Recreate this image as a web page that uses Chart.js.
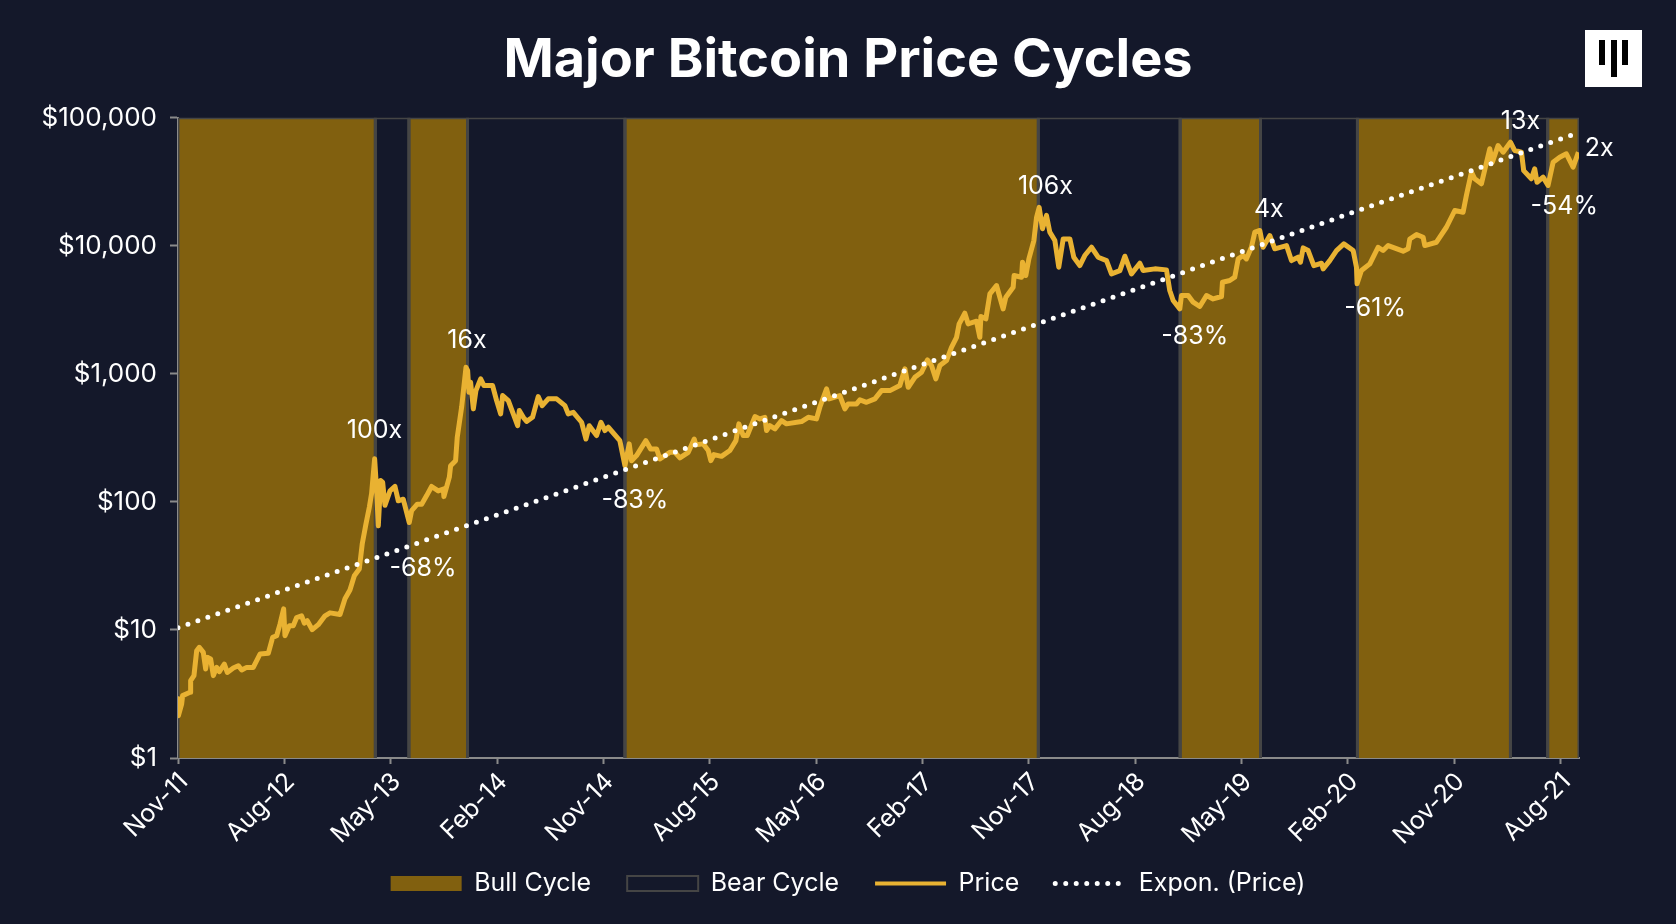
<!DOCTYPE html>
<html lang="en">
<head>
  <meta charset="UTF-8">
  <title>Major Bitcoin Price Cycles</title>
  <style>
    html,body{margin:0;padding:0;background:#14182a;width:1676px;height:924px;overflow:hidden;}
    #wrap{position:relative;width:1676px;height:924px;}
    .logo{position:absolute;left:1585px;top:30px;width:57px;height:57px;background:#fff;}
    .logo i{position:absolute;top:10px;width:6px;background:#000;}
  </style>
</head>
<body>
  <div id="wrap">
    <canvas id="mychart" width="1676" height="924"></canvas>
    <div class="logo">
      <i style="left:14px;height:25px"></i>
      <i style="left:26px;height:37px"></i>
      <i style="left:37px;height:25px"></i>
    </div>
  </div>
  <script src="https://cdn.jsdelivr.net/npm/chart.js"></script>
  <script>
    // x values are months since Nov-11
    const xTickMonths = [0,9,18,27,36,45,54,63,72,81,90,99,108,117]
    const xTickLabels = ['Nov-11','Aug-12','May-13','Feb-14','Nov-14','Aug-15','May-16','Feb-17','Nov-17','Aug-18','May-19','Feb-20','Nov-20','Aug-21']
    const yTickValues = [1,10,100,1000,10000,100000]

    const bullStarts = [0,19.54,37.82,84.8,99.8,115.9]
    const bullEnds = [16.7,24.5,72.8,91.6,112.75,118.55]
    const bearStarts = [16.7,24.5,72.8,91.6,112.75]
    const bearEnds = [19.54,37.82,84.8,99.8,115.9]

    const trendMonths = [0,118.4]
    const trendValues = [10.4,75900]

    const priceMonths = [
      0,0.03,0.31,0.39,1.02,1.07,1.35,1.58,1.8,2.14,2.34,2.48,2.76,2.99,3.27,3.5,3.92,4.17,4.68,5.1,5.39,5.81,6.37,6.94,7.64,8.01,8.35,8.63,8.94,9.05,9.42,9.76,10.04,10.46,10.69,10.94,11.36,11.87,12.44,12.86,13.71,14.13,14.55,14.92,15.34,15.59,
      15.9,16.19,16.38,16.64,16.81,16.95,17.15,17.32,17.51,17.94,18.36,18.64,19.06,19.57,19.77,20.25,20.62,21.04,21.46,22.02,22.45,22.5,22.96,23.07,23.49,23.63,24,24.37,24.51,24.62,24.76,24.99,25.21,25.61,25.89,26.62,26.96,27.3,27.47,27.95,28.37,28.74,28.88,29.22,29.5,30,30.48,30.82,31.33,32.04,32.74,33.02,33.45,34.15,34.52,34.8,35.42,35.79,36.13,36.41,37.39,37.82,
      38.18,38.38,38.8,39.59,39.99,40.5,40.78,41.62,42.05,42.47,43.18,43.68,43.82,44.44,44.87,45.09,45.35,45.99,46.7,47.21,47.46,47.83,48.17,48.82,49.24,49.66,49.8,50.08,50.51,51.07,51.49,52.76,53.33,54.03,54.31,54.88,55.1,56,56.43,56.71,57.42,57.7,58.26,58.97,59.53,60.24,61.08,61.51,61.79,
      62.35,62.92,63.42,63.76,64.13,64.47,65.03,65.45,65.88,66.1,66.58,66.86,67.57,67.85,67.94,68.36,68.7,69.26,69.82,70.05,70.67,70.75,71.38,71.46,71.74,72,72.42,72.65,72.87,73.15,73.49,73.77,74.2,74.53,74.9,75.47,75.8,76.31,
      76.73,77.3,77.86,78.57,78.99,79.7,80.12,80.68,81.39,81.67,82.66,83.64,83.92,84.21,84.77,84.91,85.48,85.9,86.46,87.03,87.59,88.3,88.38,89,89.42,89.71,90.13,90.41,90.83,91.12,91.54,91.82,92.39,92.81,93.8,94.22,94.78,94.98,95.21,95.63,96.11,96.76,96.9,97.46,
      98.03,98.65,99.44,99.72,99.77,100.14,100.85,101.55,101.97,102.4,103.67,104.09,104.23,104.8,105.36,105.5,106.49,107.33,108.04,108.74,109.02,109.45,109.73,110.29,111,111.22,111.7,112.13,112.75,113.11,113.68,113.87,114.52,114.8,115,115.51,115.93,116.36,116.92,117.48,118.05,118.5
    ]
    const priceValues = [
      2.9,2.14,2.64,3.07,3.26,4.02,4.4,6.89,7.32,6.68,4.96,6.11,5.93,4.4,5.1,4.72,5.42,4.66,5.05,5.26,4.87,5.1,5.1,6.49,6.57,8.75,9.02,11.1,14.6,9.02,10.8,10.8,12.5,12.9,11.3,11.8,10.05,11,12.9,13.6,13.2,17.5,20.5,26.5,29.9,47,
      67,91,116,217,122,65,147,142,94,122,132,102,105,69,85.5,96,96,112,132,122,126,110,156,192,210,320,549,1127,1061,718,860,533,740,914,810,810,618,487,677,618,487,394,517,458,426,458,665,565,638,638,565,487,501,419,310,394,330,419,361,383,301,192,
      284,210,230,301,259,259,217,244,244,221,244,310,280,284,252,210,234,227,252,301,407,330,330,464,445,458,361,394,372,432,407,424,458,445,549,763,638,677,533,583,583,627,600,638,740,740,810,1096,786,
      941,1030,1285,1161,914,1161,1270,1614,1932,2460,2977,2460,2578,1932,2805,2690,4217,4898,3221,3970,4750,5860,5690,7450,5860,7910,11000,16700,20000,13600,17300,12800,11000,6810,11300,11300,8150,7010,
      8400,9750,8150,7670,6040,6410,8300,6040,7310,6410,6610,6490,4480,3740,3220,4090,4090,3630,3360,4090,3850,4020,5200,5360,5690,7910,8400,7910,9750,12800,13180,9750,12030,9480,10050,7670,8150,7450,9640,9190,7010,7310,6610,7670,
      9190,10360,9190,6810,5050,6410,7230,9750,9190,10050,9080,9480,11300,12250,11670,10050,10670,13970,18880,18300,24700,37600,33400,30500,57300,45000,60700,53900,64500,55500,53900,38700,33400,40000,31400,34400,29600,45000,49200,52300,41100,53900
    ]

    const noteTexts = ['100x','-68%','16x','-83%','106x','-83%','4x','-61%','13x','-54%','2x']
    const noteMonths = [16.62,20.73,24.45,38.66,73.4,86.04,92.3,101.3,113.6,117.3,120.25]
    const noteValues = [361,30.1,1820,102,29050,1955,19200,3240,93500,20300,57500]

    const legendLabels = ['Bull Cycle','Bear Cycle','Price','Expon. (Price)']

    const bullColor = '#81600f'
    const edgeColor = '#454545'
    const priceColor = '#e9b232'
    const axisColor = '#8a8a8a'
    const fontName = 'Inter'

    Chart.defaults.color = '#ffffff'
    Chart.defaults.font.family = fontName

    // one outlined rectangle per cycle, gaps split the line into pieces
    function bandPoints(starts, ends){
      const pts = []
      starts.forEach((s,i)=>{
        pts.push({x:s,y:1},{x:s,y:100000},{x:ends[i],y:100000},{x:ends[i],y:1},{x:ends[i],y:null})
      })
      return pts
    }

    const notesPlugin = {
      id:'notes',
      // axis labels are clipped to the scale box, so open the box up
      afterLayout(chart){
        chart.scales.y.left = 0
        chart.scales.x.bottom = chart.height
      },
      afterDatasetsDraw(chart){
        const {ctx, scales} = chart
        ctx.save()
        ctx.fillStyle = '#ffffff'
        ctx.font = '25px ' + fontName
        ctx.textAlign = 'center'
        ctx.textBaseline = 'middle'
        noteTexts.forEach((t,i)=>{
          ctx.fillText(t, scales.x.getPixelForValue(noteMonths[i]), scales.y.getPixelForValue(noteValues[i]))
        })
        ctx.restore()
      }
    }

    new Chart(document.getElementById('mychart'), {
      type:'line',
      plugins:[notesPlugin],
      data:{
        datasets:[
          {
            label:legendLabels[3],
            data:trendMonths.map((m,i)=>({x:m,y:trendValues[i]})),
            borderColor:'#ffffff',
            borderWidth:5,
            borderDash:[0,10.55],
            borderCapStyle:'round',
            pointRadius:0,
            order:0
          },
          {
            label:legendLabels[2],
            data:priceMonths.map((m,i)=>({x:m,y:priceValues[i]})),
            borderColor:priceColor,
            borderWidth:5,
            borderJoinStyle:'round',
            pointRadius:0,
            tension:0,
            order:1
          },
          {
            label:legendLabels[1],
            data:bandPoints(bearStarts,bearEnds),
            borderColor:edgeColor,
            borderWidth:3,
            pointRadius:0,
            fill:false,
            order:2
          },
          {
            label:legendLabels[0],
            data:bandPoints(bullStarts,bullEnds),
            borderColor:edgeColor,
            borderWidth:3,
            backgroundColor:bullColor,
            pointRadius:0,
            fill:'start',
            order:3
          }
        ]
      },
      options:{
        responsive:false,
        animation:false,
        devicePixelRatio:1,
        layout:{padding:{left:117,right:97,top:0,bottom:18}},
        plugins:{
          tooltip:{enabled:false},
          title:{
            display:true,
            text:'Major Bitcoin Price Cycles',
            color:'#ffffff',
            font:{family:fontName,size:54,weight:'700'},
            padding:{top:28,bottom:25}
          },
          legend:{
            position:'bottom',
            labels:{
              usePointStyle:true,
              pointStyleWidth:71,
              boxHeight:15,
              padding:36,
              color:'#ffffff',
              font:{size:25},
              generateLabels(){
                return [
                  {text:legendLabels[0],fontColor:'#ffffff',pointStyle:'rect',fillStyle:bullColor,strokeStyle:bullColor,lineWidth:0},
                  {text:legendLabels[1],fontColor:'#ffffff',pointStyle:'rect',fillStyle:'rgba(0,0,0,0)',strokeStyle:edgeColor,lineWidth:2},
                  {text:legendLabels[2],fontColor:'#ffffff',pointStyle:'line',strokeStyle:priceColor,lineWidth:4},
                  {text:legendLabels[3],fontColor:'#ffffff',pointStyle:'line',strokeStyle:'#ffffff',lineWidth:5,lineDash:[0,10.5],lineCap:'round'}
                ]
              }
            }
          }
        },
        scales:{
          x:{
            type:'linear',
            min:0,
            max:118.55,
            afterBuildTicks(scale){ scale.ticks = xTickMonths.map(v=>({value:v})) },
            afterFit(scale){ scale.height = 77 },
            border:{color:axisColor,width:2},
            grid:{display:true,drawOnChartArea:false,tickLength:6,tickColor:axisColor,tickWidth:2},
            ticks:{
              autoSkip:false,
              minRotation:45,
              maxRotation:45,
              color:'#ffffff',
              font:{size:25},
              padding:3,
              labelOffset:6,
              callback(v){ return xTickLabels[xTickMonths.indexOf(v)] }
            }
          },
          y:{
            type:'logarithmic',
            min:1,
            max:100000,
            afterBuildTicks(scale){ scale.ticks = yTickValues.map(v=>({value:v})) },
            afterFit(scale){ scale.width = 61 },
            border:{color:axisColor,width:2},
            grid:{display:true,drawOnChartArea:false,tickLength:8,tickColor:axisColor,tickWidth:2},
            ticks:{
              color:'#ffffff',
              font:{size:26},
              padding:13,
              callback(v){ return '$' + Number(v).toLocaleString('en-US') }
            }
          }
        }
      }
    })
  </script>
</body>
</html>
